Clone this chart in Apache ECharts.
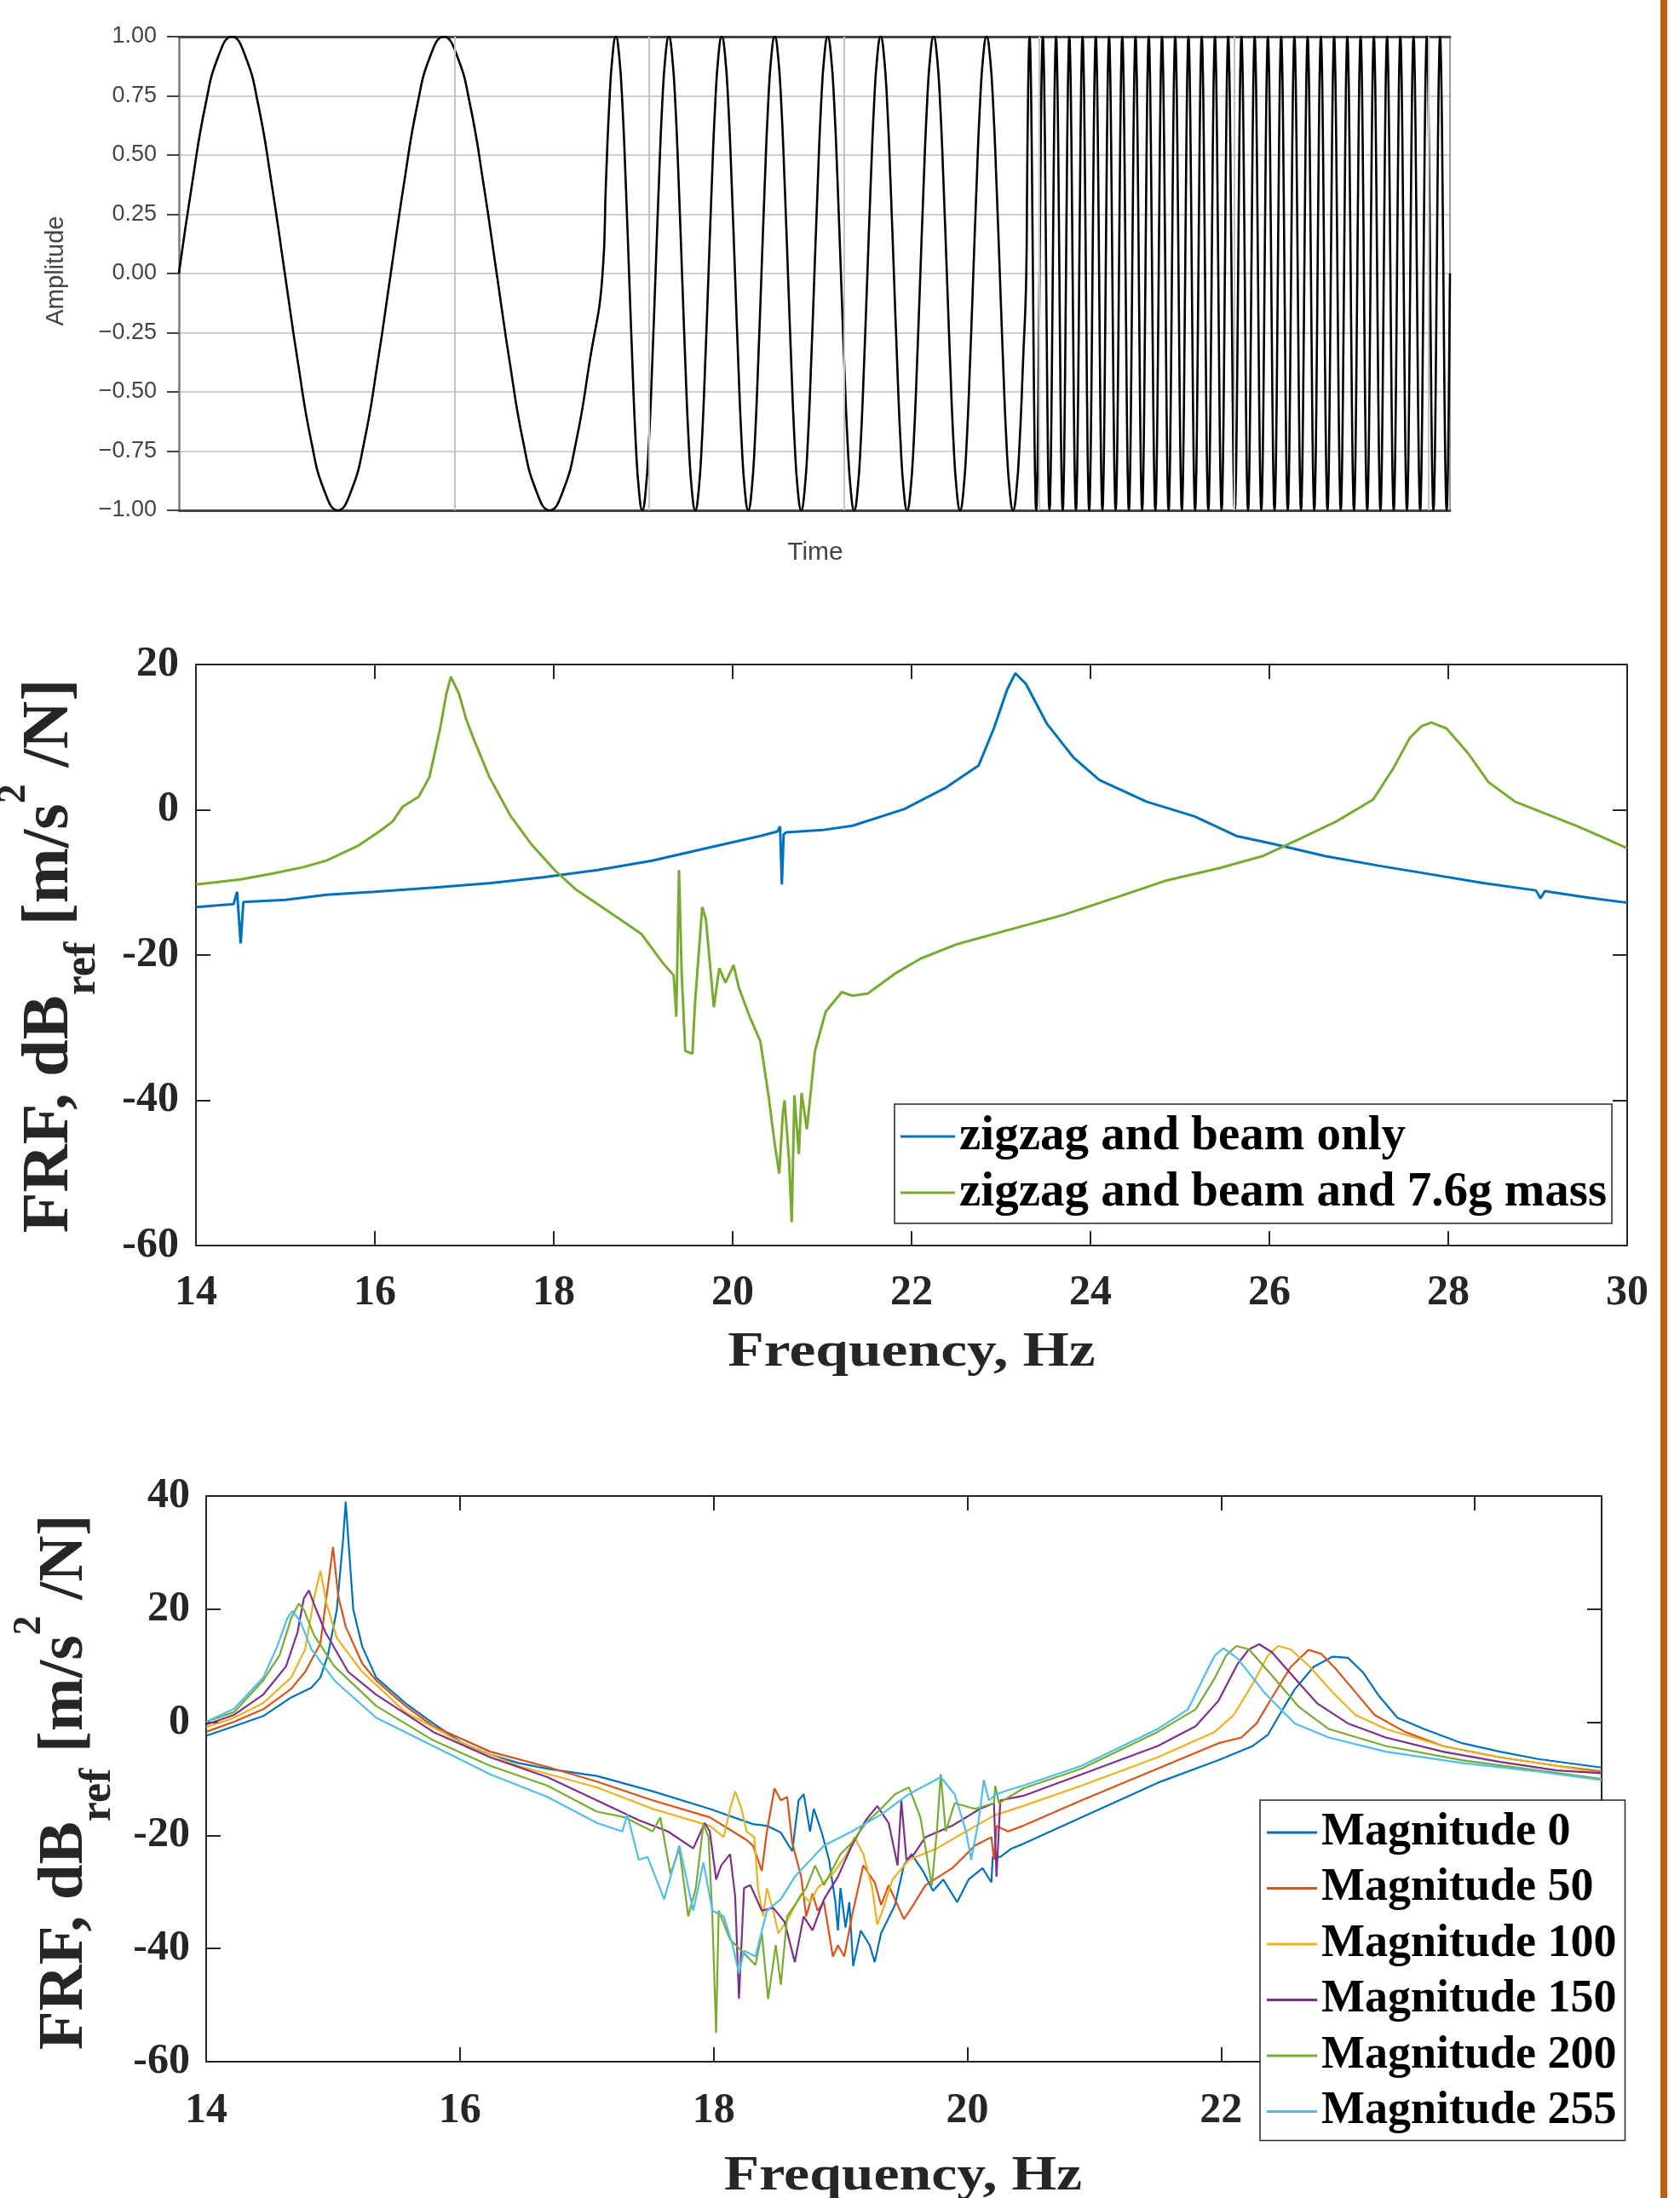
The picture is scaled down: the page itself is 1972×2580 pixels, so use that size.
<!DOCTYPE html>
<html>
<head>
<meta charset="utf-8">
<title>Sweep signal and FRF</title>
<script src="https://cdn.jsdelivr.net/npm/echarts@6.0.0/dist/echarts.min.js"></script>
<style>
  html, body { margin: 0; padding: 0; background: #fff; }
  #chart { width: 1972px; height: 2580px; }
</style>
</head>
<body>
<div id="chart"></div>
<script>
var chart = echarts.init(document.getElementById('chart'));

// ---- top panel: stepped sine sweep ----
// one period sampled every 22.5 degrees, and the number of periods in each third of the record
var sweepCycle = [0, 0.38, 0.71, 0.92, 1, 0.92, 0.71, 0.38, 0, -0.38, -0.71, -0.92, -1, -0.92, -0.71, -0.38];
var sweepCycles = [2, 8, 32];
// vertical grid lines (time, in thirds of the record)
var sweepGridTimes = [0.65, 1.11, 1.57, 2.03, 2.49, 2.95];

// ---- middle panel: FRF of zigzag and beam, with and without mass [Hz, dB] ----
var beamOnly = [[14.0,-13.4],[14.42,-13.0],[14.46,-11.3],[14.50,-18.4],[14.53,-12.7],[15.0,-12.4],[15.46,-11.7],
  [16.0,-11.3],[16.67,-10.7],[17.3,-10.1],[17.88,-9.3],[18.49,-8.3],[19.10,-7.0],[19.70,-5.3],[20.31,-3.6],
  [20.50,-3.0],[20.53,-2.3],[20.55,-10.3],[20.57,-3.4],[20.60,-3.1],[21.0,-2.8],[21.34,-2.2],[21.92,0.1],
  [22.39,3.1],[22.75,6.1],[22.92,11.2],[23.07,16.6],[23.16,18.8],[23.28,17.3],[23.51,11.9],[23.81,7.2],
  [24.10,4.1],[24.63,1.1],[25.16,-0.9],[25.63,-3.6],[26.04,-4.7],[26.63,-6.4],[27.22,-7.7],[27.81,-8.9],
  [28.39,-10.1],[28.98,-11.1],[29.03,-12.2],[29.08,-11.2],[29.57,-12.1],[30.0,-12.8]];
var beamMass = [[14.0,-10.3],[14.5,-9.6],[14.85,-8.8],[15.2,-7.9],[15.46,-7.0],[15.82,-4.9],[16.06,-2.9],
  [16.2,-1.6],[16.31,0.4],[16.49,1.8],[16.61,4.5],[16.73,11.2],[16.80,16.0],[16.85,18.3],[16.94,16.0],
  [17.02,12.5],[17.10,9.9],[17.28,4.5],[17.52,-0.9],[17.76,-4.9],[18.01,-8.3],[18.25,-11.0],[18.61,-14.0],
  [18.98,-17.1],[19.22,-21.1],[19.34,-22.8],[19.37,-28.5],[19.40,-8.3],[19.43,-22.5],[19.47,-33.2],
  [19.55,-33.6],[19.58,-26.5],[19.66,-13.4],[19.70,-15.0],[19.79,-27.2],[19.85,-21.8],[19.92,-23.8],
  [20.01,-21.4],[20.07,-24.5],[20.19,-28.5],[20.31,-31.9],[20.40,-39.3],[20.47,-46.0],[20.52,-50.1],
  [20.56,-42.0],[20.58,-40.0],[20.63,-48.1],[20.66,-56.8],[20.69,-39.3],[20.74,-47.4],[20.77,-39.0],
  [20.83,-44.0],[20.92,-33.2],[21.04,-27.8],[21.22,-25.1],[21.34,-25.6],[21.51,-25.3],[21.81,-22.6],
  [22.10,-20.5],[22.51,-18.5],[23.10,-16.5],[23.69,-14.5],[24.28,-12.1],[24.86,-9.7],[25.45,-8.0],
  [25.92,-6.4],[26.34,-4.0],[26.75,-1.6],[27.16,1.4],[27.39,5.8],[27.57,9.9],[27.70,11.5],[27.81,12.0],
  [27.98,11.2],[28.22,7.8],[28.45,3.8],[28.75,1.1],[29.10,-0.6],[29.45,-2.3],[29.69,-3.6],[30.0,-5.3]];

// ---- bottom panel: FRF for each magnitude [Hz, dB] ----
var mag0 = [[14.0,-2.4],[14.22,-0.7],[14.45,1.1],[14.67,4.4],[14.83,6.1],[14.90,7.9],[14.96,11.9],[15.03,19.9],
  [15.08,32.5],[15.10,39.0],[15.12,32.5],[15.16,19.9],[15.23,13.4],[15.34,7.9],[15.57,3.4],[15.79,-0.2],
  [16.02,-3.7],[16.24,-5.7],[16.46,-7.2],[16.69,-8.2],[17.08,-9.5],[17.52,-12.2],[17.97,-15.3],[18.31,-18.0],
  [18.42,-18.3],[18.53,-19.5],[18.62,-22.8],[18.67,-13.8],[18.71,-12.7],[18.76,-19.3],[18.79,-15.3],
  [18.85,-19.3],[18.91,-24.3],[18.96,-31.8],[18.98,-36.8],[19.00,-29.3],[19.04,-36.3],[19.07,-31.8],
  [19.10,-43.1],[19.16,-36.8],[19.23,-39.4],[19.27,-42.4],[19.32,-37.3],[19.43,-32.3],[19.50,-25.3],
  [19.56,-23.3],[19.65,-26.3],[19.73,-29.8],[19.81,-27.8],[19.92,-31.8],[20.01,-27.8],[20.12,-25.8],
  [20.19,-28.3],[20.20,-23.8],[20.26,-23.8],[20.35,-22.3],[20.44,-21.5],[20.90,-16.8],[21.50,-10.7],
  [21.98,-6.7],[22.25,-4.2],[22.37,-2.2],[22.46,1.3],[22.58,5.8],[22.73,9.8],[22.88,11.6],[23.00,11.4],
  [23.12,8.8],[23.24,4.8],[23.39,0.8],[23.60,-1.2],[23.90,-3.7],[24.20,-5.2],[24.50,-6.5],[25.0,-8.0]];
var mag50 = [[14.0,-1.7],[14.22,0.1],[14.45,2.3],[14.67,5.9],[14.78,8.9],[14.90,13.9],[14.95,22.4],[15.00,31.0],
  [15.04,22.4],[15.10,16.9],[15.23,10.4],[15.34,7.4],[15.57,2.9],[15.79,-0.7],[16.24,-5.2],[16.69,-7.9],
  [17.08,-10.5],[17.52,-13.8],[17.97,-16.8],[18.26,-20.8],[18.31,-21.8],[18.38,-26.3],[18.42,-19.3],
  [18.48,-11.7],[18.53,-13.8],[18.58,-13.2],[18.62,-21.3],[18.69,-27.3],[18.73,-34.3],[18.78,-30.3],
  [18.82,-33.3],[18.87,-31.8],[18.94,-41.4],[18.98,-39.4],[19.03,-41.4],[19.09,-34.3],[19.18,-25.3],
  [19.27,-28.3],[19.32,-32.3],[19.38,-28.8],[19.50,-34.8],[19.56,-32.8],[19.67,-28.8],[19.88,-25.8],
  [20.06,-21.8],[20.19,-20.3],[20.21,-24.3],[20.23,-18.3],[20.32,-19.3],[20.44,-18.3],[20.90,-13.8],
  [21.50,-8.2],[21.98,-3.7],[22.16,-2.7],[22.28,-0.2],[22.40,4.3],[22.55,9.8],[22.69,12.8],[22.79,12.1],
  [22.91,9.3],[23.06,5.3],[23.21,1.3],[23.45,-1.7],[23.75,-4.2],[24.20,-6.2],[24.65,-7.7],[25.0,-8.7]];
var mag100 = [[14.0,-0.9],[14.22,0.8],[14.45,3.4],[14.67,7.9],[14.78,12.9],[14.85,21.9],[14.90,26.8],[14.95,20.9],
  [15.03,14.9],[15.23,8.9],[15.57,1.8],[16.02,-3.7],[16.46,-7.7],[17.08,-11.5],[17.52,-15.3],[17.97,-18.3],
  [18.08,-20.3],[18.13,-15.3],[18.17,-12.2],[18.22,-15.3],[18.26,-19.3],[18.32,-20.3],[18.35,-29.3],
  [18.39,-34.3],[18.42,-29.3],[18.47,-33.3],[18.51,-37.3],[18.60,-34.3],[18.69,-30.3],[18.76,-31.8],
  [18.82,-29.3],[18.94,-26.8],[19.05,-23.3],[19.11,-20.3],[19.18,-23.3],[19.25,-29.3],[19.29,-35.8],
  [19.34,-32.8],[19.41,-27.8],[19.54,-24.3],[19.76,-22.3],[19.99,-19.3],[20.21,-16.5],[20.44,-14.8],
  [20.90,-11.2],[21.50,-6.2],[21.95,-1.7],[22.10,1.3],[22.25,6.8],[22.37,11.8],[22.45,13.5],[22.55,12.9],
  [22.70,9.8],[22.88,5.3],[23.06,1.3],[23.30,-1.2],[23.75,-4.2],[24.20,-6.2],[24.65,-7.7],[25.0,-9.0]];
var mag150 = [[14.0,-0.4],[14.22,1.3],[14.45,4.9],[14.63,9.9],[14.72,15.9],[14.77,21.9],[14.81,23.3],[14.85,20.9],
  [14.94,15.9],[15.12,8.9],[15.34,4.9],[15.79,-1.7],[16.24,-6.2],[16.69,-9.7],[17.08,-13.8],[17.41,-17.3],
  [17.64,-19.3],[17.84,-22.3],[17.93,-17.8],[17.97,-19.3],[18.02,-27.8],[18.06,-25.3],[18.13,-23.3],
  [18.17,-30.8],[18.20,-48.9],[18.24,-29.3],[18.29,-28.8],[18.38,-33.3],[18.47,-32.8],[18.56,-35.3],
  [18.64,-42.4],[18.71,-34.3],[18.78,-36.8],[18.87,-31.3],[18.98,-27.3],[19.09,-21.8],[19.20,-17.3],
  [19.29,-14.8],[19.38,-17.8],[19.45,-25.3],[19.48,-13.8],[19.52,-24.3],[19.58,-23.3],[19.67,-20.3],
  [19.88,-18.3],[20.10,-15.3],[20.21,-14.3],[20.23,-27.3],[20.26,-13.8],[20.44,-13.0],[20.90,-9.2],
  [21.50,-4.2],[21.80,-0.7],[21.98,3.8],[22.13,10.3],[22.22,12.9],[22.30,13.8],[22.40,12.4],[22.58,7.8],
  [22.76,3.3],[23.00,-0.2],[23.30,-2.7],[23.75,-5.2],[24.20,-7.0],[24.65,-8.5],[25.0,-9.0]];
var mag200 = [[14.0,0.1],[14.22,1.8],[14.45,7.4],[14.58,11.9],[14.67,18.4],[14.73,21.0],[14.77,19.9],[14.85,15.4],
  [15.01,9.9],[15.34,2.9],[15.79,-3.2],[16.24,-7.7],[16.69,-11.2],[17.08,-15.8],[17.30,-16.8],[17.52,-19.3],
  [17.58,-16.8],[17.66,-26.8],[17.73,-22.3],[17.80,-34.3],[17.86,-29.3],[17.92,-18.0],[17.96,-20.3],
  [17.99,-34.3],[18.02,-54.9],[18.04,-33.3],[18.13,-38.4],[18.22,-40.4],[18.33,-42.9],[18.38,-37.3],
  [18.43,-48.9],[18.49,-39.4],[18.53,-46.4],[18.58,-34.3],[18.64,-32.3],[18.73,-29.3],[18.80,-25.3],
  [18.87,-28.8],[19.00,-23.3],[19.09,-21.3],[19.20,-17.8],[19.32,-15.3],[19.43,-12.7],[19.54,-11.5],
  [19.63,-16.8],[19.72,-28.8],[19.76,-19.3],[19.79,-9.2],[19.83,-19.3],[19.90,-14.3],[20.06,-15.3],
  [20.21,-14.3],[20.22,-11.2],[20.25,-14.3],[20.44,-11.7],[20.90,-8.2],[21.50,-1.7],[21.80,2.3],[21.95,7.8],
  [22.04,11.8],[22.12,13.5],[22.22,12.9],[22.40,8.3],[22.61,2.8],[22.85,-1.2],[23.30,-4.2],[23.90,-6.7],
  [24.50,-8.5],[25.0,-10.0]];
var mag255 = [[14.0,0.1],[14.22,2.4],[14.45,7.9],[14.56,13.4],[14.64,18.4],[14.68,19.7],[14.74,17.9],[14.83,12.9],
  [15.01,7.4],[15.34,0.8],[15.79,-4.2],[16.24,-9.2],[16.69,-13.2],[17.08,-17.8],[17.28,-19.3],[17.32,-16.3],
  [17.41,-24.3],[17.48,-23.8],[17.61,-31.3],[17.73,-21.8],[17.84,-33.3],[17.92,-24.8],[17.99,-33.3],
  [18.08,-34.3],[18.15,-39.4],[18.20,-44.4],[18.24,-40.4],[18.33,-41.4],[18.42,-33.3],[18.53,-31.3],
  [18.64,-27.3],[18.87,-21.8],[19.09,-19.3],[19.32,-16.3],[19.54,-12.7],[19.79,-9.7],[19.90,-12.7],
  [19.99,-19.3],[20.03,-24.3],[20.09,-17.3],[20.13,-10.2],[20.17,-13.8],[20.23,-12.7],[20.32,-12.0],
  [20.44,-11.2],[20.90,-7.7],[21.50,-1.2],[21.74,2.3],[21.86,7.8],[21.95,11.8],[22.02,13.1],[22.13,11.3],
  [22.34,5.3],[22.58,-0.2],[22.85,-2.7],[23.30,-5.2],[23.90,-7.2],[24.50,-8.7],[25.0,-10.2]];

var magNames = ['Magnitude 0', 'Magnitude 50', 'Magnitude 100', 'Magnitude 150', 'Magnitude 200', 'Magnitude 255'];
var magCurves = [mag0, mag50, mag100, mag150, mag200, mag255];
var magColors = ['#0072BD', '#D95319', '#EDB120', '#7E2F8E', '#77AC30', '#4DBEEE'];

// sweep samples: each third of the record holds its number of periods
var sweepData = [];
sweepCycles.forEach(function (n, s) {
  for (var c = 0; c < n; c++) {
    sweepCycle.forEach(function (v, k) {
      sweepData.push([s + (c * sweepCycle.length + k) / (n * sweepCycle.length), v]);
    });
  }
});
sweepData.push([sweepCycles.length, 0]);

var serif = 'Liberation Serif';
var dark = '#262626';

function boxAxis(grid, pos, min, max, interval, showLabel, margin) {
  return {
    type: 'value', gridIndex: grid, position: pos, min: min, max: max, interval: interval,
    axisLine: { onZero: false, lineStyle: { color: dark, width: 2 } },
    axisTick: { inside: true, length: 17, lineStyle: { color: dark, width: 2 } },
    axisLabel: {
      show: showLabel, margin: margin, fontFamily: serif, fontWeight: 'bold', fontSize: 50, color: dark,
      formatter: function (v) { return (pos === 'bottom' && v === 25) ? '' : String(v); }
    },
    splitLine: { show: false }
  };
}

function yTitle(x, y, size) {
  return {
    type: 'text', x: x, y: y, rotation: Math.PI / 2, silent: true,
    style: {
      text: 'FRF, dB{sub|ref} [m/s{sup|2} /N]',
      fontFamily: serif, fontWeight: 'bold', fontSize: size, lineHeight: 130, fill: dark,
      align: 'center', verticalAlign: 'middle', textAlign: 'center', textVerticalAlign: 'middle',
      rich: {
        sub: { fontFamily: serif, fontWeight: 'bold', fontSize: 52, lineHeight: 52, verticalAlign: 'bottom', fill: dark },
        sup: { fontFamily: serif, fontWeight: 'bold', fontSize: 46, lineHeight: 46, verticalAlign: 'top', fill: dark }
      }
    }
  };
}

function xTitle(x, y, size, sx) {
  return {
    type: 'text', x: x, y: y, scaleX: sx, silent: true,
    style: {
      text: 'Frequency, Hz', fontFamily: serif, fontWeight: 'bold', fontSize: size, fill: dark,
      align: 'center', verticalAlign: 'middle', textAlign: 'center', textVerticalAlign: 'middle'
    }
  };
}

var legendText = { fontFamily: serif, fontWeight: 'bold', color: '#000' };

var series = [
  {
    name: 'grid', type: 'line', xAxisIndex: 0, yAxisIndex: 0, data: [], z: 1, silent: true,
    markLine: {
      silent: true, symbol: ['none', 'none'], label: { show: false },
      lineStyle: { color: '#c4c4c4', width: 2, type: 'solid' },
      data: sweepGridTimes.map(function (t) { return { xAxis: t }; })
    }
  },
  {
    name: 'sweep', type: 'line', xAxisIndex: 0, yAxisIndex: 0, data: sweepData, z: 3,
    showSymbol: false, smooth: true, silent: true,
    lineStyle: { color: '#000', width: 2.6 }
  },
  {
    name: 'zigzag and beam only', type: 'line', xAxisIndex: 2, yAxisIndex: 2, data: beamOnly,
    showSymbol: false, color: '#0072BD', lineStyle: { color: '#0072BD', width: 3 }
  },
  {
    name: 'zigzag and beam and 7.6g mass', type: 'line', xAxisIndex: 2, yAxisIndex: 2, data: beamMass,
    showSymbol: false, color: '#77AC30', lineStyle: { color: '#77AC30', width: 3 }
  }
];
magNames.forEach(function (name, i) {
  series.push({
    name: name, type: 'line', xAxisIndex: 4, yAxisIndex: 4, data: magCurves[i],
    showSymbol: false, color: magColors[i], lineStyle: { color: magColors[i], width: 2.2 }
  });
});

var option = {
  animation: false,
  backgroundColor: '#fff',
  grid: [
    { left: 210, top: 43, width: 1492, height: 556, outerBoundsMode: 'none' },
    { left: 230, top: 780, width: 1680, height: 682, outerBoundsMode: 'none' },
    { left: 242, top: 1756, width: 1638, height: 664, outerBoundsMode: 'none' }
  ],
  xAxis: [
    {
      type: 'value', gridIndex: 0, position: 'bottom', min: 0, max: 3,
      axisLine: { onZero: false, lineStyle: { color: '#444', width: 3 } },
      axisTick: { show: false }, axisLabel: { show: false }, splitLine: { show: false }
    },
    {
      type: 'value', gridIndex: 0, position: 'top', min: 0, max: 3,
      axisLine: { onZero: false, lineStyle: { color: '#444', width: 3 } },
      axisTick: { show: false }, axisLabel: { show: false }, splitLine: { show: false }
    },
    boxAxis(1, 'bottom', 14, 30, 2, true, 31),
    boxAxis(1, 'top', 14, 30, 2, false, 0),
    boxAxis(2, 'bottom', 14, 25, 2, true, 33),
    boxAxis(2, 'top', 14, 25, 2, false, 0)
  ],
  yAxis: [
    {
      type: 'value', gridIndex: 0, position: 'left', min: -1, max: 1, interval: 0.25,
      axisLine: { onZero: false, lineStyle: { color: '#7a7a7a', width: 2.5 } },
      axisTick: { show: true, inside: false, length: 14, lineStyle: { color: '#444', width: 2 } },
      axisLabel: {
        margin: 26, fontFamily: 'Liberation Sans', fontSize: 27, color: '#444',
        formatter: function (v) { return v.toFixed(2).replace('-', '\u2212'); }
      },
      splitLine: { show: true, lineStyle: { color: '#cfcfcf', width: 2 } }
    },
    {
      type: 'value', gridIndex: 0, position: 'right', min: -1, max: 1,
      axisLine: { onZero: false, lineStyle: { color: '#999', width: 2 } },
      axisTick: { show: false }, axisLabel: { show: false }, splitLine: { show: false }
    },
    boxAxis(1, 'left', -60, 20, 20, true, 20),
    boxAxis(1, 'right', -60, 20, 20, false, 0),
    boxAxis(2, 'left', -60, 40, 20, true, 19),
    boxAxis(2, 'right', -60, 40, 20, false, 0)
  ],
  legend: [
    {
      data: ['zigzag and beam only', 'zigzag and beam and 7.6g mass'],
      orient: 'vertical', left: 1050, top: 1296, padding: [8, 6, 6, 7], itemGap: 6,
      itemWidth: 64, itemHeight: 3, icon: 'rect', selectedMode: false,
      backgroundColor: '#fff', borderColor: dark, borderWidth: 1.5,
      textStyle: Object.assign({ fontSize: 57, lineHeight: 60 }, legendText)
    },
    {
      data: magNames,
      orient: 'vertical', left: 1479, top: 2113, padding: [9, 10, 5, 8], itemGap: 7.5,
      itemWidth: 59, itemHeight: 3, icon: 'rect', selectedMode: false,
      backgroundColor: '#fff', borderColor: dark, borderWidth: 1.5,
      textStyle: Object.assign({ fontSize: 54, lineHeight: 58 }, legendText)
    }
  ],
  graphic: [
    { type: 'rect', shape: { x: 1949, y: 0, width: 8, height: 2580 }, style: { fill: '#C55A11' }, silent: true },
    {
      type: 'text', x: 66, y: 318, rotation: Math.PI / 2, silent: true,
      style: { text: 'Amplitude', fontFamily: 'Liberation Sans', fontSize: 29, fill: '#444',
        align: 'center', verticalAlign: 'middle', textAlign: 'center', textVerticalAlign: 'middle' }
    },
    {
      type: 'text', x: 957, y: 649, silent: true,
      style: { text: 'Time', fontFamily: 'Liberation Sans', fontSize: 30, fill: '#444',
        align: 'center', verticalAlign: 'middle', textAlign: 'center', textVerticalAlign: 'middle' }
    },
    yTitle(59, 1122, 78),
    xTitle(1070, 1588, 57, 1.22),
    yTitle(77, 2092, 75),
    xTitle(1060, 2556, 56, 1.21)
  ],
  series: series
};

chart.setOption(option);
</script>
</body>
</html>
